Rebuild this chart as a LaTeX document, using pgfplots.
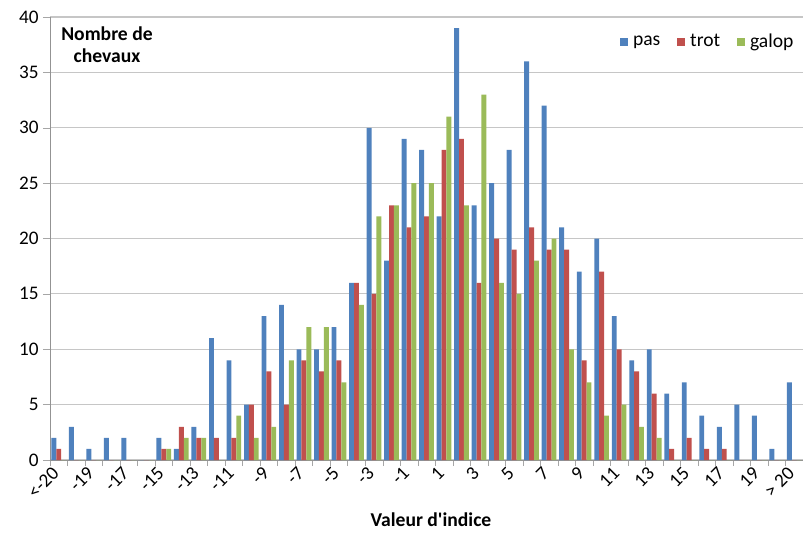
\documentclass[border=0pt]{standalone}
\usepackage{pgfplots}
\usepackage{pgfplotstable}
\pgfplotsset{compat=1.18}
\usepackage{fontspec}
\setmainfont{Carlito}

\definecolor{pas}{HTML}{4F81BD}
\definecolor{trot}{HTML}{C0504D}
\definecolor{galop}{HTML}{9BBB59}

% index 0 = <-20, 1 = -20, ..., 41 = 20, 42 = >20
\pgfplotstableread{
x  pas trot galop
0  2  1  0
1  3  0  0
2  1  0  0
3  2  0  0
4  2  0  0
5  0  0  0
6  2  1  1
7  1  3  2
8  3  2  2
9  11 2  0
10 9  2  4
11 5  5  2
12 13 8  3
13 14 5  9
14 10 9  12
15 10 8  12
16 12 9  7
17 16 16 14
18 30 15 22
19 18 23 23
20 29 21 25
21 28 22 25
22 22 28 31
23 39 29 23
24 23 16 33
25 25 20 16
26 28 19 15
27 36 21 18
28 32 19 20
29 21 19 10
30 17 9  7
31 20 17 4
32 13 10 5
33 9  8  3
34 10 6  2
35 6  1  0
36 7  2  0
37 4  1  0
38 3  1  0
39 5  0  0
40 4  0  0
41 1  0  0
42 7  0  0
}\chevaux

\begin{document}
\begin{tikzpicture}
\begin{axis}[
  at={(25pt,36pt)}, anchor=south west,
  scale only axis, width=376.5pt, height=221.5pt,
  ybar=0pt, bar width=2.45pt,
  xmin=-0.5, xmax=42.5, ymin=0, ymax=40,
  axis lines*=left,
  axis line style={draw=gray!85},
  ytick={0,5,...,40},
  ymajorgrids, grid style={draw=gray!45, line width=0.6pt},
  xtick={0,2,...,42},
  xticklabels={<-20,-19,-17,-15,-13,-11,-9,-7,-5,-3,-1,1,3,5,7,9,11,13,15,17,19,> 20},
  minor xtick={-0.5,0.5,...,42.5},
  tick align=outside,
  major tick length=3.5pt, minor tick length=3pt,
  major x tick style={draw=none},
  minor x tick style={draw=gray!70},
  major y tick style={draw=gray!70},
  tick label style={font=\fontsize{9.6}{11}\selectfont},
  yticklabel style={inner sep=2pt},
  xticklabel style={rotate=45, anchor=east, inner sep=2pt},
  /pgf/number format/assume math mode=true,
  legend style={at={(0.756,0.9436)}, anchor=west, draw=none, fill=none,
    font=\fontsize{9.8}{11}\selectfont, inner sep=0pt,
    nodes={inner sep=1.2pt},
    /tikz/every odd column/.append style={column sep=1.5pt},
    /tikz/every even column/.append style={column sep=7pt}},
  legend columns=-1,
  legend image code/.code={\fill[#1] (0pt,-2pt) rectangle (4pt,2pt);},
]
\addplot[fill=pas, draw=none] table[x=x, y=pas] {\chevaux};
\addplot[fill=trot, draw=none] table[x=x, y=trot] {\chevaux};
\addplot[fill=galop, draw=none] table[x=x, y=galop] {\chevaux};
\legend{pas, trot, galop}
\end{axis}
\node[align=center, font=\bfseries\fontsize{9.8}{11}\selectfont] at (53.5pt,243.5pt) {Nombre de\\chevaux};
\node[font=\bfseries\fontsize{9.8}{11}\selectfont] at (215.5pt,6pt) {Valeur d\textquotesingle indice};
\pgfresetboundingbox
\useasboundingbox (0,0) rectangle (401.5pt,266pt);
\end{tikzpicture}
\end{document}
